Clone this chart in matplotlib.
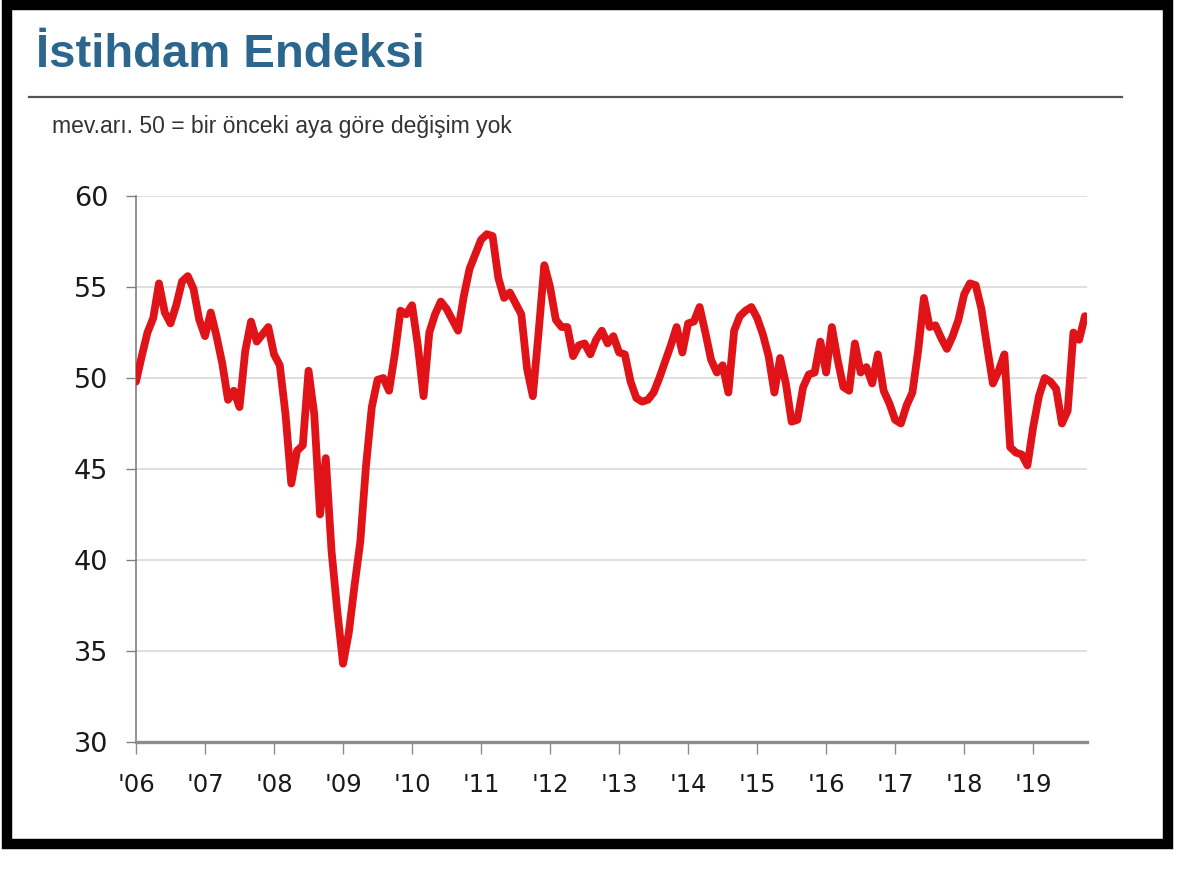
import matplotlib
matplotlib.use("Agg")
import matplotlib.pyplot as plt
from matplotlib.patches import Rectangle
from matplotlib.lines import Line2D
import numpy as np

# ---- data (monthly index values, Jan 2006 - Oct 2019) ----
y2006 = [49.8, 51.2, 52.5, 53.3, 55.2, 53.6, 53.0, 54.0, 55.3, 55.6, 54.9, 53.2]
y2007 = [52.3, 53.6, 52.3, 50.8, 48.8, 49.3, 48.4, 51.5, 53.1, 52.0, 52.4, 52.8]
y2008 = [51.3, 50.7, 48.0, 44.2, 46.0, 46.3, 50.4, 48.0, 42.5, 45.6, 40.5, 37.2]
y2009 = [34.3, 36.0, 38.6, 41.0, 45.2, 48.4, 49.9, 50.0, 49.3, 51.3, 53.7, 53.5]
y2010 = [54.0, 51.8, 49.0, 52.5, 53.5, 54.2, 53.8, 53.2, 52.6, 54.5, 56.0, 56.8]
y2011 = [57.6, 57.9, 57.8, 55.5, 54.4, 54.7, 54.1, 53.5, 50.5, 49.0, 52.5, 56.2]
y2012 = [55.0, 53.2, 52.8, 52.8, 51.2, 51.8, 51.9, 51.3, 52.1, 52.6, 51.9, 52.3]
y2013 = [51.4, 51.3, 49.8, 48.9, 48.7, 48.8, 49.2, 50.0, 50.9, 51.8, 52.8, 51.4]
y2014 = [53.0, 53.1, 53.9, 52.5, 51.0, 50.3, 50.7, 49.2, 52.6, 53.4, 53.7, 53.9]
y2015 = [53.3, 52.4, 51.2, 49.2, 51.1, 49.7, 47.6, 47.7, 49.5, 50.2, 50.3, 52.0]
y2016 = [50.3, 52.8, 51.0, 49.5, 49.3, 51.9, 50.3, 50.6, 49.7, 51.3, 49.3, 48.6]
y2017 = [47.7, 47.5, 48.5, 49.2, 51.5, 54.4, 52.8, 52.9, 52.2, 51.6, 52.3, 53.2]
y2018 = [54.6, 55.2, 55.1, 53.8, 51.7, 49.7, 50.4, 51.3, 46.2, 45.9, 45.8, 45.2]
y2019 = [47.3, 49.0, 50.0, 49.8, 49.4, 47.5, 48.2, 52.5, 52.1, 53.4]

start_year = 2006
years = list(range(2006, 2020))
year_labels = ["'06", "'07", "'08", "'09", "'10", "'11", "'12", "'13",
               "'14", "'15", "'16", "'17", "'18", "'19"]
y_ticks = [30, 35, 40, 45, 50, 55, 60]

title = "İstihdam Endeksi"
subtitle = "mev.arı. 50 = bir önceki aya göre değişim yok"

values = (y2006 + y2007 + y2008 + y2009 + y2010 + y2011 + y2012 + y2013 +
          y2014 + y2015 + y2016 + y2017 + y2018 + y2019)
t = start_year + np.arange(len(values)) / 12.0

# ---- figure ----
W, H = 1200, 872
fig = plt.figure(figsize=(W / 100, H / 100), dpi=100)
fig.patch.set_facecolor("white")

def fx(px):
    return px / W

def fy(py):
    return 1 - py / H

ax = fig.add_axes([fx(136), fy(742), fx(1087 - 136), (742 - 196) / H])

ax.plot(t, values, color="#e01418", lw=5.6, solid_joinstyle="round",
        solid_capstyle="round", zorder=3)

ax.set_xlim(2006, 2019.78)
ax.set_ylim(30, 60)
ax.set_yticks(y_ticks)
ax.set_xticks(years)
ax.set_xticklabels(year_labels)

ax.grid(axis="y", color="#d9d9d9", lw=1.2, zorder=0)
ax.grid(axis="x", visible=False)
ax.set_axisbelow(True)

for s in ["top", "right"]:
    ax.spines[s].set_visible(False)
ax.spines["left"].set_color("#808080")
ax.spines["left"].set_linewidth(1.2)
ax.spines["bottom"].set_color("#8c8c8c")
ax.spines["bottom"].set_linewidth(2.4)

ax.tick_params(axis="y", direction="out", length=7, width=1.0, color="#808080",
               pad=13, labelsize=19.5, labelcolor="#1a1a1a")
ax.tick_params(axis="x", direction="out", length=8.5, width=1.0, color="#8c8c8c",
               pad=14, labelsize=17.5, labelcolor="#1a1a1a")
for lab in ax.get_xticklabels() + ax.get_yticklabels():
    lab.set_fontfamily("DejaVu Sans")

# ---- header ----
fig.text(fx(36), fy(67), title, fontsize=34, fontweight="bold",
         family="Liberation Sans", color="#2a668d", ha="left", va="baseline")
fig.add_artist(Line2D([fx(29), fx(1122)], [fy(97), fy(97)],
                      color="#555555", lw=1.6, transform=fig.transFigure))
fig.text(fx(52), fy(133), subtitle, fontsize=16.5, family="Liberation Sans",
         color="#333333", ha="left", va="baseline")

# ---- black frame ----
fig.add_artist(Rectangle((fx(7), fy(844)), fx(1168 - 7), (844 - 5) / H,
                         transform=fig.transFigure, fill=False,
                         edgecolor="black", lw=7.5))

fig.savefig("out.png", dpi=100, facecolor="white")
